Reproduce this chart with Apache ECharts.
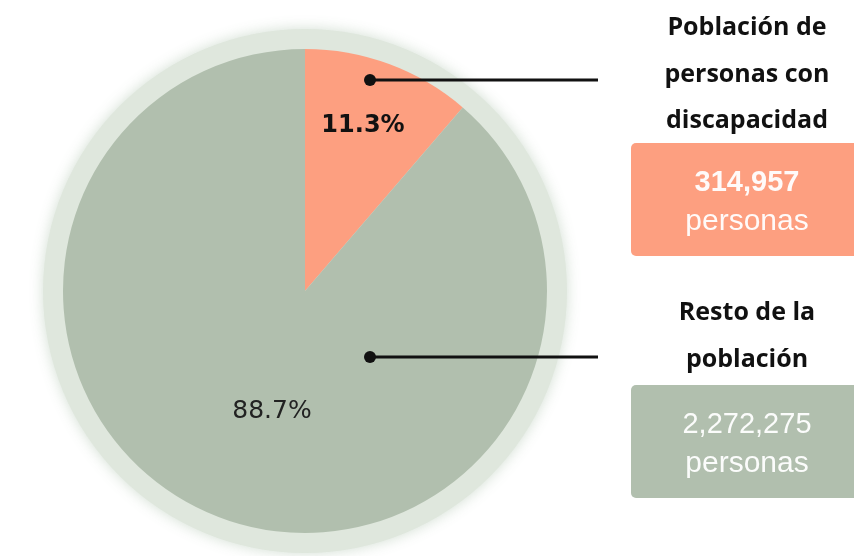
<!DOCTYPE html>
<html><head><meta charset="utf-8">
<script src="https://cdn.jsdelivr.net/npm/echarts@6/dist/echarts.min.js"></script>
<style>html,body{margin:0;padding:0;background:#fff}#c{width:854px;height:556px}</style>
</head><body><div id="c"></div>
<script>
const categories = ['Población de personas con discapacidad', 'Resto de la población'];
const shares = [11.3, 88.7];
const people = ['314,957', '2,272,275'];
const headings = [['Población de', 'personas con', 'discapacidad'], ['Resto de la', 'población']];
const colors = ['#fd9f80', '#b1bfae'];

const chart = echarts.init(document.getElementById('c'));
const cx = 305, cy = 291, R = 242;

const graphic = [];
const dots = [[370, 80], [370, 357]];
dots.forEach(d => {
  graphic.push({type:'line', shape:{x1:d[0], y1:d[1], x2:598, y2:d[1]}, style:{stroke:'#111', lineWidth:3}, z:10});
  graphic.push({type:'circle', shape:{cx:d[0], cy:d[1], r:6}, style:{fill:'#111'}, z:11});
});
graphic.push({type:'text', x:363, y:126, style:{text: shares[0].toFixed(1)+'%', font:'bold 24px "DejaVu Sans"', fill:'#111', align:'center', verticalAlign:'middle'}, z:10});
graphic.push({type:'text', x:272, y:411, style:{text: shares[1].toFixed(1)+'%', font:'400 25px "DejaVu Sans"', fill:'#222', align:'center', verticalAlign:'middle'}, z:10});
const headY = [[28, 75, 121], [313, 360]];
headings.forEach((h, i) => h.forEach((t, j) => {
  graphic.push({type:'text', x:747, y:headY[i][j], style:{text:t, font:'bold 25px "Open Sans"', fill:'#111', align:'center', verticalAlign:'middle'}});
}));
const boxY = [143, 385];
boxY.forEach((y, i) => {
  graphic.push({type:'rect', shape:{x:631, y:y, width:240, height:113, r:5}, style:{fill:colors[i]}});
  graphic.push({type:'text', x:747, y:y+40, style:{text:people[i], font:(i===0?'bold ':'')+'29px "Liberation Sans"', fill:'#fff', align:'center', verticalAlign:'middle', opacity:0.95}});
  graphic.push({type:'text', x:747, y:y+79, style:{text:'personas', font:'30px "Liberation Sans"', fill:'#fff', align:'center', verticalAlign:'middle', opacity:0.95}});
});

chart.setOption({
  animation:false,
  graphic: graphic,
  series: [
    {type:'pie', center:[cx, cy], radius:[0, 262], silent:true, z:1,
     label:{show:false}, labelLine:{show:false},
     itemStyle:{color:'#dfe7dd', shadowBlur:14, shadowColor:'rgba(205,218,205,0.9)'},
     data:[{value:1, name:'ring'}]},
    {type:'pie', center:[cx, cy], radius:[0, R], startAngle:90, clockwise:true, z:2,
     label:{show:false}, labelLine:{show:false},
     itemStyle:{borderWidth:0},
     data: categories.map((c, i) => ({name:c, value:shares[i], itemStyle:{color:colors[i]}}))}
  ]
});
</script></body></html>
